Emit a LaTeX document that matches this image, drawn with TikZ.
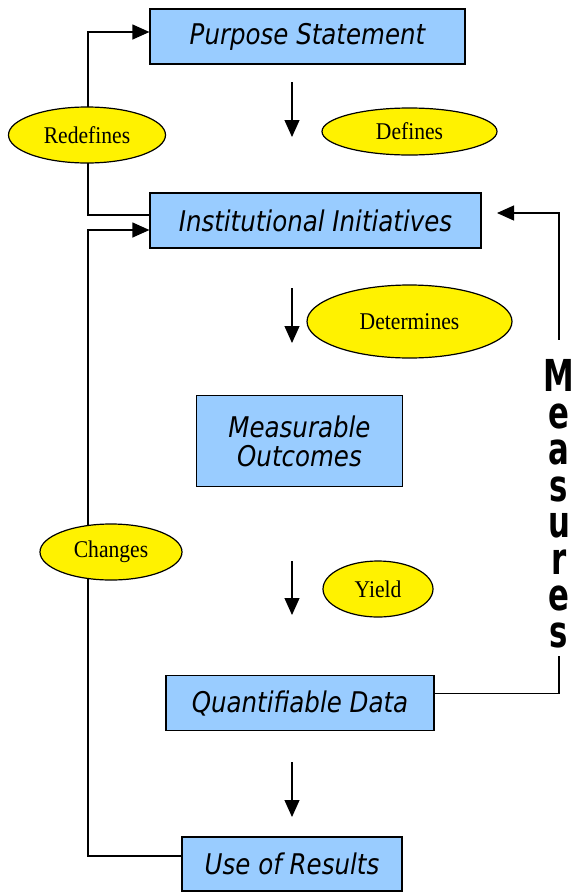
\documentclass[tikz,border=0pt]{standalone}
\usepackage{fontspec}
\setmainfont{Liberation Serif}[FakeStretch=0.9]
\newfontfamily\boxfont{DejaVu Sans}[FakeStretch=0.86]
\newfontfamily\measfont{DejaVu Sans Bold}[FakeStretch=0.7]
\usepackage{tikz}
\usetikzlibrary{arrows.meta,shapes.geometric}

\begin{document}
\begin{tikzpicture}[x=1pt,y=-1pt,
    stage/.style={draw=black,line width=1.2pt,fill=stageblue,inner sep=0pt,
      font=\boxfont\itshape\fontsize{28.5}{30}\selectfont,align=center},
    verb/.style={ellipse,draw=black,line width=1.2pt,fill=yellow,inner sep=0pt,
      font=\fontsize{24}{26}\selectfont},
    link/.style={line width=1.2pt},
    tip/.style={-{Triangle[length=17pt,width=15pt]}}]
  \definecolor{stageblue}{HTML}{99CCFF}
  \useasboundingbox (0,0) rectangle (575,892);

  % boxes
  \node[stage,minimum width=315pt,minimum height=55pt] (ps) at (307.5,36.5) {Purpose Statement};
  \node[stage,minimum width=331pt,minimum height=55pt] (ii) at (315.5,220.5) {Institutional Initiatives};
  \node[stage,minimum width=206pt,minimum height=91pt] (mo) at (299.5,441) {\raisebox{-3pt}{Measurable}\\[2pt]Outcomes};
  \node[stage,minimum width=268pt,minimum height=55pt] (qd) at (300,703) {Quantifiable Data};
  \node[stage,minimum width=220pt,minimum height=54pt] (ur) at (292,864) {Use of Results};

  \node[inner sep=0pt,font=\measfont\fontsize{44}{36.5}\selectfont,align=center] (meas)
    at (559,504) {M\\e\\a\\s\\u\\r\\e\\s};

  % down arrows
  \coordinate (a1) at (292,82);  \coordinate (b1) at (292,137);
  \coordinate (a2) at (292,288); \coordinate (b2) at (292,343);
  \coordinate (a3) at (292,561); \coordinate (b3) at (292,615);
  \coordinate (a4) at (292,762); \coordinate (b4) at (292,817);
  \draw[link,tip] (a1) -- (b1);
  \draw[link,tip] (a2) -- (b2);
  \draw[link,tip] (a3) -- (b3);
  \draw[link,tip] (a4) -- (b4);

  % loops on the left
  \coordinate (rc) at (88,32);
  \coordinate (cc) at (88,230);
  \draw[link,tip] ([yshift=5.5pt]ii.west) -| (rc) -- ([yshift=4.5pt]ps.west);
  \draw[link,tip] ([yshift=8pt]ur.west) -| (cc) -- ([yshift=-9.5pt]ii.west);

  % loop on the right
  \coordinate (mt) at (497,213);
  \draw[link] ([yshift=9.5pt]qd.east) -| ([yshift=-8pt]meas.south);
  \draw[link,tip] ([yshift=20pt]meas.north) |- (mt);

  % labels
  \node[verb,minimum width=157pt,minimum height=56pt] (rd) at (87,135) {Redefines};
  \node[verb,minimum width=175pt,minimum height=47pt] (df) at (409.5,131.5) {Defines};
  \node[verb,minimum width=205pt,minimum height=73pt] (dt) at (409.5,321.5) {Determines};
  \node[verb,minimum width=142pt,minimum height=56pt] (ch) at (111,552) {Changes};
  \node[verb,minimum width=110pt,minimum height=56pt] (yd) at (378,589) {Yield};
\end{tikzpicture}
\end{document}
